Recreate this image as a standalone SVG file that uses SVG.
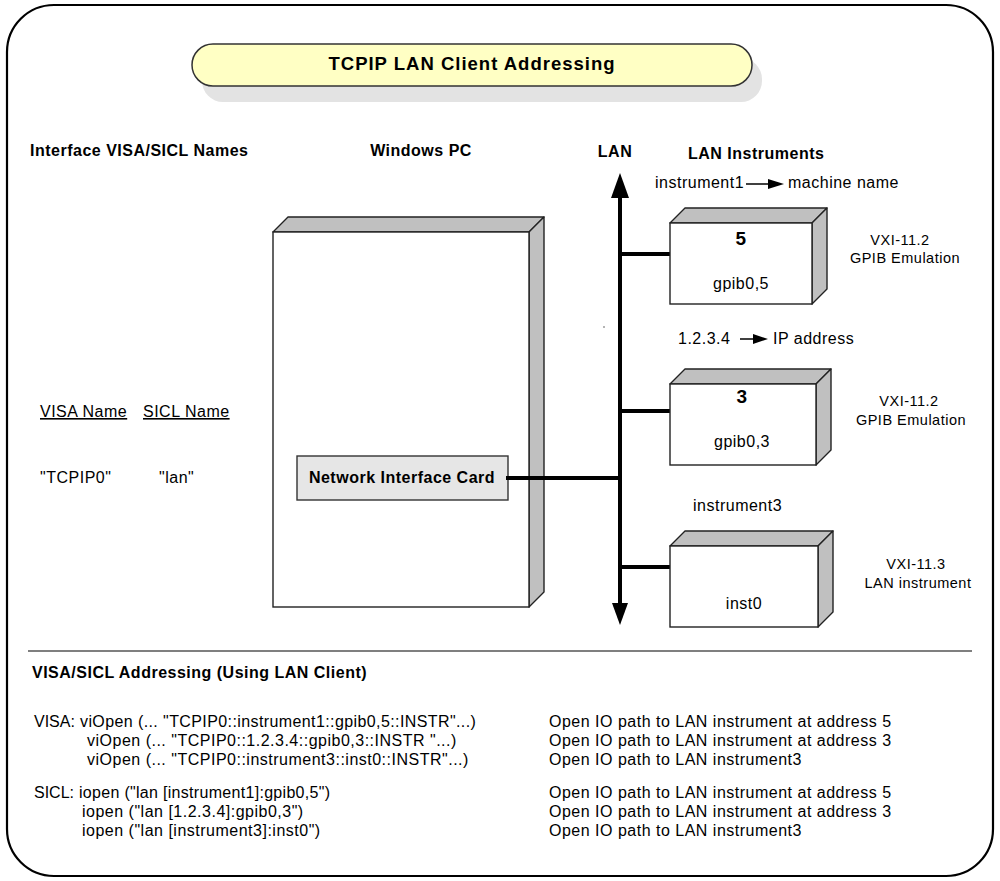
<svg xmlns="http://www.w3.org/2000/svg" width="1000" height="881" viewBox="0 0 1000 881">
<style>
text{font-family:"Liberation Sans",Arial,sans-serif;font-size:16px;letter-spacing:0.5px;fill:#000}
.b{font-weight:bold}
.m{text-anchor:middle}
.u{text-decoration:underline}
.t{letter-spacing:0}
.s{font-size:14.5px}
.face{fill:#fff;stroke:#222;stroke-width:1.4}
.shade{fill:#c0c0c0;stroke:#222;stroke-width:1.4;stroke-linejoin:round}
.wire{stroke:#000;stroke-width:4;fill:none}
</style>
<rect x="0" y="0" width="1000" height="881" fill="#fff"/>
<rect id="frame" x="7" y="5" width="986" height="871" rx="47" fill="none" stroke="#000" stroke-width="2.2"/>

<g id="title">
<rect x="202" y="58" width="560" height="44" rx="21" fill="#e3e3e3"/>
<rect x="192" y="44" width="560" height="42" rx="21" fill="#ffffc4" stroke="#333" stroke-width="1.5"/>
<text x="472" y="70" class="b m" style="font-size:18.5px;letter-spacing:1px">TCPIP LAN Client Addressing</text>
</g>

<g id="headers">
<text x="30" y="156" class="b">Interface VISA/SICL Names</text>
<text x="421" y="156" class="b m">Windows PC</text>
<text x="615" y="157" class="b m">LAN</text>
<text x="688" y="159" class="b">LAN Instruments</text>
</g>

<g id="names">
<text x="40" y="417" class="u">VISA Name</text>
<text x="143" y="417" class="u">SICL Name</text>
<text x="40" y="483">"TCPIP0"</text>
<text x="159" y="483">"lan"</text>
</g>

<g id="pc">
<polygon class="shade" points="273,232 288,217 544,217 529,232"/>
<polygon class="shade" points="529,232 544,217 544,592 529,607"/>
<rect class="face" x="273" y="232" width="256" height="375"/>
</g>

<g id="nic">
<rect x="297" y="456" width="211" height="44" fill="#e6e6e6" stroke="#333" stroke-width="1.4"/>
<text x="402" y="483" class="b m">Network Interface Card</text>
</g>

<g id="connectors">
<line class="wire" x1="620" y1="196" x2="620" y2="605"/>
<polygon points="620,173 611,198 629,198" fill="#000"/>
<polygon points="620,625 612,603 628,603" fill="#000"/>
<line class="wire" x1="506" y1="478" x2="620" y2="478"/>
<line class="wire" x1="620" y1="254" x2="671" y2="254"/>
<line class="wire" x1="620" y1="411" x2="671" y2="411"/>
<line class="wire" x1="620" y1="567" x2="671" y2="567"/>
<circle cx="604" cy="327" r="0.8" fill="#555"/>
</g>

<g id="inst1">
<polygon class="shade" points="670,223 685,208 827,208 812,223"/>
<polygon class="shade" points="812,223 827,208 827,289 812,304"/>
<rect class="face" x="670" y="223" width="142" height="81"/>
<text x="741" y="245" class="b m" style="font-size:19px">5</text>
<text x="741" y="289" class="m">gpib0,5</text>
<text x="900" y="245" class="m s">VXI-11.2</text>
<text x="905" y="263" class="m s">GPIB Emulation</text>
<text x="655" y="188">instrument1</text>
<line x1="746" y1="184" x2="772" y2="184" stroke="#000" stroke-width="1.5"/>
<polygon points="768,179 784,184 768,189" fill="#000"/>
<text x="788" y="188">machine name</text>
</g>

<g id="inst2">
<polygon class="shade" points="670,384 685,369 831,369 816,384"/>
<polygon class="shade" points="816,384 831,369 831,450 816,465"/>
<rect class="face" x="670" y="384" width="146" height="81"/>
<text x="742" y="403" class="b m" style="font-size:19px">3</text>
<text x="742" y="447" class="m">gpib0,3</text>
<text x="909" y="406" class="m s">VXI-11.2</text>
<text x="911" y="425" class="m s">GPIB Emulation</text>
<text x="678" y="344">1.2.3.4</text>
<line x1="740" y1="339" x2="757" y2="339" stroke="#000" stroke-width="1.5"/>
<polygon points="753,334 768,339 753,344" fill="#000"/>
<text x="773" y="344">IP address</text>
</g>

<g id="inst3">
<polygon class="shade" points="670,546 685,531 833,531 818,546"/>
<polygon class="shade" points="818,546 833,531 833,612 818,627"/>
<rect class="face" x="670" y="546" width="148" height="81"/>
<text x="744" y="609" class="m">inst0</text>
<text x="916" y="569" class="m s">VXI-11.3</text>
<text x="918" y="588" class="m s">LAN instrument</text>
<text x="693" y="511">instrument3</text>
</g>

<line id="separator" x1="28" y1="651" x2="972" y2="651" stroke="#000" stroke-width="1.2"/>

<g id="addressing">
<text x="32" y="678" class="b">VISA/SICL Addressing (Using LAN Client)</text>
<text x="34" y="727" class="t">VISA:</text>
<text x="80" y="727" style="letter-spacing:0.4px">viOpen (... "TCPIP0::instrument1::gpib0,5::INSTR"...)</text>
<text x="87" y="746">viOpen (... "TCPIP0::1.2.3.4::gpib0,3::INSTR "...)</text>
<text x="87" y="765">viOpen (... "TCPIP0::instrument3::inst0::INSTR"...)</text>
<text x="34" y="798" class="t">SICL:</text>
<text x="79" y="798" style="letter-spacing:0.3px">iopen ("lan [instrument1]:gpib0,5")</text>
<text x="82" y="817">iopen ("lan [1.2.3.4]:gpib0,3")</text>
<text x="82" y="836">iopen ("lan [instrument3]:inst0")</text>
<text x="549" y="727">Open IO path to LAN instrument at address 5</text>
<text x="549" y="746">Open IO path to LAN instrument at address 3</text>
<text x="549" y="765">Open IO path to LAN instrument3</text>
<text x="549" y="798">Open IO path to LAN instrument at address 5</text>
<text x="549" y="817">Open IO path to LAN instrument at address 3</text>
<text x="549" y="836">Open IO path to LAN instrument3</text>
</g>
</svg>
